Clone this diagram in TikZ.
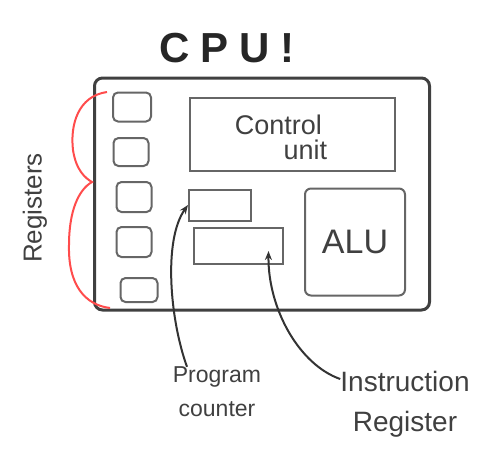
\documentclass[tikz,border=0pt]{standalone}
\usepackage{fontspec}
\setmainfont{Liberation Sans}
\usetikzlibrary{arrows.meta}

\begin{document}
\begin{tikzpicture}[x=1pt,y=-1pt,
    cpubox/.style={draw=black!75,line width=3pt,rounded corners=8pt},
    regbox/.style={draw=black!60,line width=2pt,rounded corners=5pt,inner sep=0pt},
    partbox/.style={draw=black!60,line width=2pt,inner sep=0pt},
    lbl/.style={text=black!75,inner sep=0pt},
    pointer/.style={-{Stealth[length=9pt,width=7pt]},line width=2pt,draw=black!80}]
  \useasboundingbox (0,0) rectangle (497,466);
  % the chip itself
  \node[lbl,text=black!85,font=\fontsize{42}{42}\selectfont\bfseries\addfontfeature{LetterSpace=26}] (title) at (227,48) {CPU!};
  \node[cpubox,minimum width=335pt,minimum height=232pt] (cpu) at (262,194) {};
  % register column
  \foreach \i/\x/\y/\w/\h in {1/132/107/38/29,2/131/152/35/28,3/134/197/35/30,4/134/242/35/30,5/139/290/37/24}
    \node[regbox,minimum width=\w pt,minimum height=\h pt] (reg\i) at (\x,\y) {};
  \node[partbox,minimum width=205pt,minimum height=73pt] (cu) at (292,134) {};
  \node[lbl,align=left,font=\fontsize{27}{25}\selectfont] (culabel) at (281,137) {Control\\\hspace*{1.8em}unit};
  \node[partbox,minimum width=62pt,minimum height=31pt] (pc) at (220,205) {};
  \node[partbox,minimum width=89pt,minimum height=36pt] (ir) at (238,246) {};
  \node[partbox,rounded corners=6pt,minimum width=100pt,minimum height=107pt,text=black!75,font=\fontsize{34}{34}\selectfont] (alu) at (355,242) {ALU};
  \coordinate (irtip) at ([xshift=-15pt,yshift=14pt]ir.south east);
  % brace round the registers
  \draw[red!70,line width=2pt] (107,92) .. controls (78,96) and (70,125) .. (73,150)
    .. controls (76,170) and (85,178) .. (92,182)
    .. controls (78,190) and (69,212) .. (69,245)
    .. controls (68,285) and (85,305) .. (110,308);
  \node[lbl,rotate=90,font=\fontsize{26}{26}\selectfont] (reglabel) at (35,208) {Registers};
  % labels below
  \node[lbl,align=center,font=\fontsize{23}{34}\selectfont] (pclabel) at (217,392) {Program\\counter};
  \node[lbl,align=center,font=\fontsize{28}{40}\selectfont] (irlabel) at (405,404) {Instruction\\Register};
  \draw[pointer] ([xshift=-30pt]pclabel.north) .. controls (170,320) and (163,240) .. (pc.west);
  \draw[pointer] ([yshift=25pt]irlabel.west) .. controls (300,365) and (268,310) .. (irtip);
\end{tikzpicture}
\end{document}
